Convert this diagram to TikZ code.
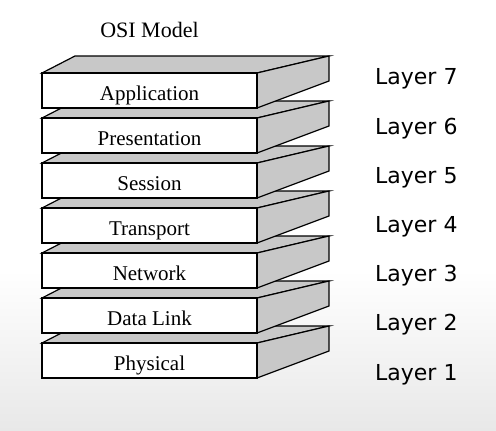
\documentclass[tikz,border=0pt]{standalone}
\usepackage{fontspec}
\setmainfont{Liberation Serif}
\newfontfamily\layerfont{DejaVu Sans}
\definecolor{slabgray}{RGB}{200,200,200}
\definecolor{bggray}{RGB}{232,232,232}
\tikzset{
  face/.style={draw=black, line width=1.2pt, line join=miter},
  frontface/.style={face, fill=white},
  sideface/.style={face, fill=slabgray},
  layername/.style={anchor=base, inner sep=0pt, font=\fontsize{21}{21}\selectfont},
  layerno/.style={anchor=base west, inner sep=0pt, font=\layerfont\fontsize{22}{22}\selectfont}
}
\begin{document}
\begin{tikzpicture}[x=1pt, y=-1pt]
	% background
	\fill[white] (0,0) rectangle (496,431);
	\shade[top color=white, bottom color=bggray] (0,270) rectangle (496,431);
	\useasboundingbox (0,0) rectangle (496,431);
	\node[anchor=base, inner sep=0pt, font=\fontsize{22}{22}\selectfont] (title) at (149.5,37) {OSI Model};
	% slabs, from the bottom up
	\foreach \name/\num [count=\i from 0] in {Physical/1, Data Link/2, Network/3, Transport/4, Session/5, Presentation/6, Application/7} {
		\pgfmathsetmacro{\t}{343-45*\i}
		\draw[sideface] (42,\t) -- (75,\t-17) -- (329,\t-17) -- (257,\t) -- cycle;
		\draw[sideface] (257,\t) -- (329,\t-17) -- (329,\t+8) -- (257,\t+35) -- cycle;
		\draw[frontface] (42,\t) rectangle (257,\t+35);
		\node[layername] (n-\num) at (149.5,\t+27) {\name};
		\node[layerno] (lbl-\num) at (375,380-49.17*\i) {Layer \num};
	}
\end{tikzpicture}
\end{document}
